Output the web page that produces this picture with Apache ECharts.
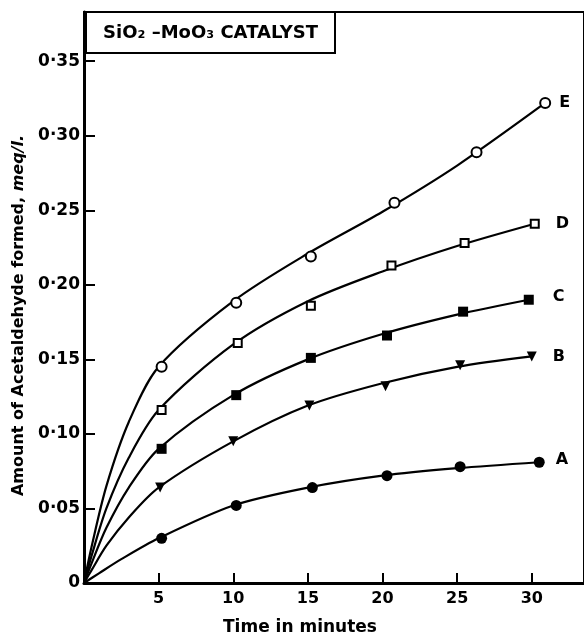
<!DOCTYPE html>
<html>
<head>
<meta charset="utf-8">
<script src="https://cdn.jsdelivr.net/npm/echarts@6/dist/echarts.min.js"></script>
<style>
html,body{margin:0;padding:0;background:#fff;}
#c{width:584px;height:636px;}
</style>
</head>
<body>
<div id="c"></div>
<script>
const timesE = [5.2, 10.2, 15.2, 20.8, 26.3, 30.9];
const valuesE = [0.145, 0.188, 0.219, 0.255, 0.289, 0.322];
const timesD = [5.2, 10.3, 15.2, 20.6, 25.5, 30.2];
const valuesD = [0.116, 0.161, 0.186, 0.213, 0.228, 0.241];
const timesC = [5.2, 10.2, 15.2, 20.3, 25.4, 29.8];
const valuesC = [0.090, 0.126, 0.151, 0.166, 0.182, 0.190];
const timesB = [5.1, 10.0, 15.1, 20.2, 25.2, 30.0];
const valuesB = [0.064, 0.095, 0.119, 0.132, 0.146, 0.152];
const timesA = [5.2, 10.2, 15.3, 20.3, 25.2, 30.5];
const valuesA = [0.030, 0.052, 0.064, 0.072, 0.078, 0.081];

// ---- fitted curves as drawn in the reference ----
const curveTimesE = [0, 0.5, 1.5, 3, 5, 10, 15, 20, 25, 30.9];
const curveE = [0, 0.024, 0.065, 0.108, 0.145, 0.189, 0.221, 0.249, 0.280, 0.322];
const curveTimesD = [0, 0.5, 1.5, 3, 5, 10, 15, 20, 25, 30.2];
const curveD = [0, 0.018, 0.050, 0.084, 0.116, 0.160, 0.189, 0.209, 0.226, 0.241];
const curveTimesC = [0, 0.5, 1.5, 3, 5, 10, 15, 20, 25, 29.8];
const curveC = [0, 0.013, 0.037, 0.064, 0.090, 0.126, 0.150, 0.167, 0.180, 0.190];
const curveTimesB = [0, 0.5, 1.5, 3, 5, 10, 15, 20, 25, 30.0];
const curveB = [0, 0.0085, 0.025, 0.044, 0.064, 0.095, 0.119, 0.134, 0.145, 0.152];
const curveTimesA = [0, 1, 2.5, 5, 10, 15, 20, 25, 30.5];
const curveA = [0, 0.0065, 0.016, 0.030, 0.052, 0.064, 0.072, 0.077, 0.081];

const seriesNames = ['E', 'D', 'C', 'B', 'A'];
const xTickLabels = ['', '5', '10', '15', '20', '25', '30'];
const yTickLabels = ['0', '0·05', '0·10', '0·15', '0·20', '0·25', '0·30', '0·35'];
const titleText = 'SiO₂ –MoO₃ CATALYST';
const xName = 'Time in minutes';
const yNameMain = 'Amount of Acetaldehyde formed, ';
const yNameUnit = 'meq/l.';

const FONT = 'DejaVu Sans';

function pairs(times, values) { return times.map((t, i) => [t, values[i]]); }
function markerData(times, values) {
  return times.map((t, i) => {
    const item = { value: [t, values[i]] };
    if (i === times.length - 1) item.label = { show: true };
    return item;
  });
}

function mkCurve(name, times, values) {
  return {
    name: name + '-curve', type: 'line', smooth: 0.3,
    data: pairs(times, values), symbol: 'none',
    lineStyle: { color: '#000', width: 2.2 }, emphasis: { disabled: true }, z: 2, silent: true
  };
}
function mkMarkers(name, times, values, sym, opts) {
  return {
    name: name, type: 'scatter',
    data: markerData(times, values),
    symbol: sym.symbol, symbolSize: sym.size, symbolRotate: sym.rotate || 0,
    itemStyle: { color: sym.fill, borderColor: '#000', borderWidth: sym.border, opacity: 1 },
    label: {
      show: false, formatter: name, position: 'right', distance: opts.dist,
      offset: [0, opts.dy || 0], color: '#000', fontFamily: FONT, fontWeight: 'bold', fontSize: 16
    },
    emphasis: { disabled: true }, z: 3
  };
}

const chart = echarts.init(document.getElementById('c'), null, { renderer: 'canvas' });
chart.setOption({
  animation: false,
  backgroundColor: '#fff',
  grid: {
    left: 84, right: 0, top: 12, bottom: 53,
    show: true, borderColor: '#000', borderWidth: 2,
    outerBoundsMode: 'none', containLabel: false
  },
  xAxis: {
    type: 'value', min: 0, max: 33.5, interval: 5,
    splitLine: { show: false },
    axisLine: { lineStyle: { color: '#000', width: 3 } },
    axisTick: { inside: true, length: 10, lineStyle: { color: '#000', width: 2 } },
    axisLabel: {
      margin: 8, color: '#000', fontFamily: FONT, fontWeight: 'bold', fontSize: 16,
      formatter: v => xTickLabels[Math.round(v / 5)] ?? ''
    },
    name: xName, nameLocation: 'middle', nameGap: 36,
    nameTextStyle: { color: '#000', fontFamily: FONT, fontWeight: 'bold', fontSize: 17, padding: [0, 68, 0, 0] }
  },
  yAxis: {
    type: 'value', min: 0, max: 0.383, interval: 0.05,
    splitLine: { show: false },
    axisLine: { lineStyle: { color: '#000', width: 3 } },
    axisTick: { inside: true, length: 11, lineStyle: { color: '#000', width: 2 } },
    axisLabel: {
      margin: 4, color: '#000', fontFamily: FONT, fontWeight: 'bold', fontSize: 17,
      formatter: v => yTickLabels[Math.round(v / 0.05)] ?? ''
    },
    name: '{a|' + yNameMain + '}{b|' + yNameUnit + '}',
    nameLocation: 'middle', nameRotate: 90, nameGap: 54,
    nameTextStyle: {
      padding: [0, 36, 0, 0],
      rich: {
        a: { color: '#000', fontFamily: FONT, fontWeight: 'bold', fontSize: 16 },
        b: { color: '#000', fontFamily: FONT, fontStyle: 'italic', fontWeight: 'bold', fontSize: 16 }
      }
    }
  },
  graphic: [{
    type: 'group', left: 85, top: 11, z: 10,
    children: [
      { type: 'rect', shape: { x: 0, y: 0, width: 249, height: 41 },
        style: { fill: '#fff', stroke: '#000', lineWidth: 2 } },
      { type: 'text', x: 124.5, y: 21,
        style: { text: titleText, fill: '#000', font: 'bold 18px "DejaVu Sans"', align: 'center', verticalAlign: 'middle' } }
    ]
  }],
  series: [
    mkCurve('E', curveTimesE, curveE),
    mkCurve('D', curveTimesD, curveD),
    mkCurve('C', curveTimesC, curveC),
    mkCurve('B', curveTimesB, curveB),
    mkCurve('A', curveTimesA, curveA),
    mkMarkers('E', timesE, valuesE, { symbol: 'circle', size: 10, fill: '#fff', border: 2 }, { dist: 8 }),
    mkMarkers('D', timesD, valuesD, { symbol: 'rect', size: 8, fill: '#fff', border: 2 }, { dist: 16 }),
    mkMarkers('C', timesC, valuesC, { symbol: 'rect', size: 10, fill: '#000', border: 0 }, { dist: 19, dy: -3 }),
    mkMarkers('B', timesB, valuesB, { symbol: 'triangle', size: 10, rotate: 180, fill: '#000', border: 0 }, { dist: 16 }),
    mkMarkers('A', timesA, valuesA, { symbol: 'circle', size: 11, fill: '#000', border: 0 }, { dist: 11, dy: -2 })
  ]
});
</script>
</body>
</html>
